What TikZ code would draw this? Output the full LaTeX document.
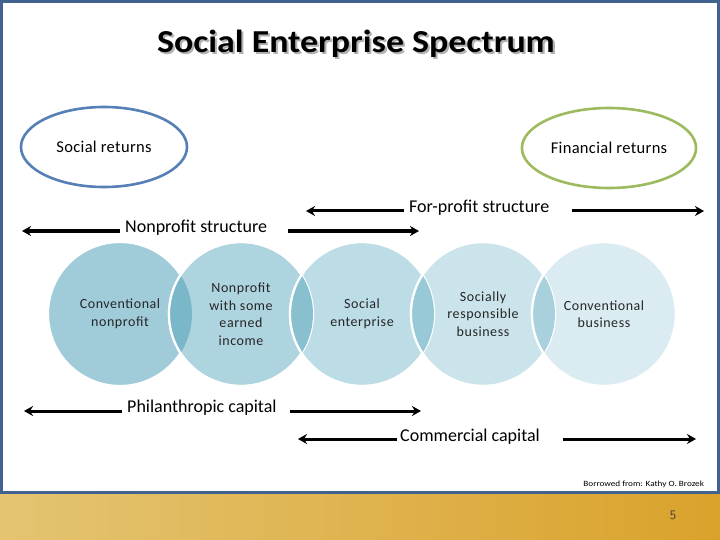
\documentclass[tikz,border=0pt]{standalone}
\usepackage{fontspec}
\setmainfont{Carlito}
\usetikzlibrary{positioning, arrows.meta, shapes.geometric}

\definecolor{framecol}{HTML}{41628E}
\definecolor{socialcol}{HTML}{5680B5}
\definecolor{fincol}{HTML}{9DBB5E}
\definecolor{goldL}{HTML}{E4C472}
\definecolor{goldR}{HTML}{DAA22B}
\definecolor{bub1}{HTML}{A0CCD9}
\definecolor{bub2}{HTML}{AED4DF}
\definecolor{bub3}{HTML}{BCDCE6}
\definecolor{bub4}{HTML}{CBE4EC}
\definecolor{bub5}{HTML}{DAECF2}
\definecolor{lens1}{HTML}{7AB7C9}
\definecolor{lens2}{HTML}{89C0D0}
\definecolor{lens3}{HTML}{98C9D7}
\definecolor{lens4}{HTML}{A8D1DD}

\newcommand{\shadowtext}[1]{\makebox[0pt][l]{\hspace{1.8pt}\raisebox{-1.8pt}{\color{black!30}#1}}#1}

\tikzset{
  returns/.style={draw, ellipse, line width=2.6pt, minimum width=166pt, minimum height=80pt,
    font=\fontsize{16.5}{19}\selectfont\addfontfeatures{LetterSpace=2}},
  spanlabel/.style={font=\fontsize{18}{21}\selectfont, inner sep=0pt, anchor=base west},
  span/.style={line width=3pt, -{Stealth[length=9pt,width=10pt]}},
  bubble/.style={circle, minimum size=144pt, outer sep=0pt, draw=white, line width=2.2pt,
    align=center, font=\fontsize{14}{17.5}\selectfont\addfontfeatures{LetterSpace=4}, text=black!85},
}

\begin{document}
\begin{tikzpicture}[x=1pt,y=-1pt]
\useasboundingbox (0,0) rectangle (720,540);

% slide frame and footer bar
\fill[white] (0,0) rectangle (720,493);
\shade[left color=goldL, right color=goldR] (0,493) rectangle (720,540);
\draw[framecol, line width=3pt] (1.5,1.5) rectangle (718.5,492);

% title
\node[font=\fontsize{32}{36}\selectfont\bfseries, xscale=1.12] (title) at (356,44.5) {\shadowtext{Social Enterprise Spectrum}};

% returns
\node[returns, draw=socialcol] (soc) at (104,147) {Social returns};
\node[returns, draw=fincol] (fin) at (609,148) {\raisebox{-2pt}{Financial returns}};

% bubbles
\node[bubble, fill=bub1] (1) at (120,314) {Conventional\\nonprofit};
\node[bubble, fill=bub2] (2) [right=-23pt of 1] {Nonprofit\\with some\\earned\\income};
\node[bubble, fill=bub3] (3) [right=-23pt of 2] {Social\\enterprise};
\node[bubble, fill=bub4] (4) [right=-23pt of 3] {Socially\\responsible\\business};
\node[bubble, fill=bub5] (5) [right=-23pt of 4] {Conventional\\business};

\foreach \a/\b/\lc in {1/2/lens1, 2/3/lens2, 3/4/lens3, 4/5/lens4}{
  \begin{scope}
    \clip (\a.center) circle (72pt);
    \fill[\lc] (\b.center) circle (72pt);
  \end{scope}
  \draw[white, line width=2.2pt] (\b.center) circle (72pt);
}

% structure spans
\node[spanlabel] (fp) at (409,212.5) {For-profit structure};
\coordinate (fpL0) at (404,211);
\coordinate (fpL) at (306,211);
\coordinate (fpR0) at (572,211);
\coordinate (fpR) at (704,211);
\draw[span] (fpL0) -- (fpL);
\draw[span] (fpR0) -- (fpR);

\node[spanlabel] (np) at (125,232.5) {Nonprofit structure};
\coordinate (npL0) at (120,231);
\coordinate (npL) at (22,231);
\coordinate (npR0) at (288,231);
\coordinate (npR) at (419,231);
\draw[span] (npL0) -- (npL);
\draw[span] (npR0) -- (npR);

% capital spans
\node[spanlabel] (ph) at (127,412.5) {Philanthropic capital};
\coordinate (phL0) at (122,411);
\coordinate (phL) at (24,411);
\coordinate (phR0) at (290,411);
\coordinate (phR) at (421,411);
\draw[span] (phL0) -- (phL);
\draw[span] (phR0) -- (phR);

\node[spanlabel] (cc) at (400,441) {Commercial capital};
\coordinate (ccL0) at (397,439);
\coordinate (ccL) at (298,439);
\coordinate (ccR0) at (563,439);
\coordinate (ccR) at (696,439);
\draw[span] (ccL0) -- (ccL);
\draw[span] (ccR0) -- (ccR);

% footer
\node[font=\fontsize{8}{9}\selectfont, anchor=east, xscale=1.15] (src) at (708,484) {Borrowed from: Kathy O. Brozek};
\node[font=\sffamily\fontsize{13}{15}\selectfont, text=black!75] (pg) at (673,515) {5};
\end{tikzpicture}
\end{document}
